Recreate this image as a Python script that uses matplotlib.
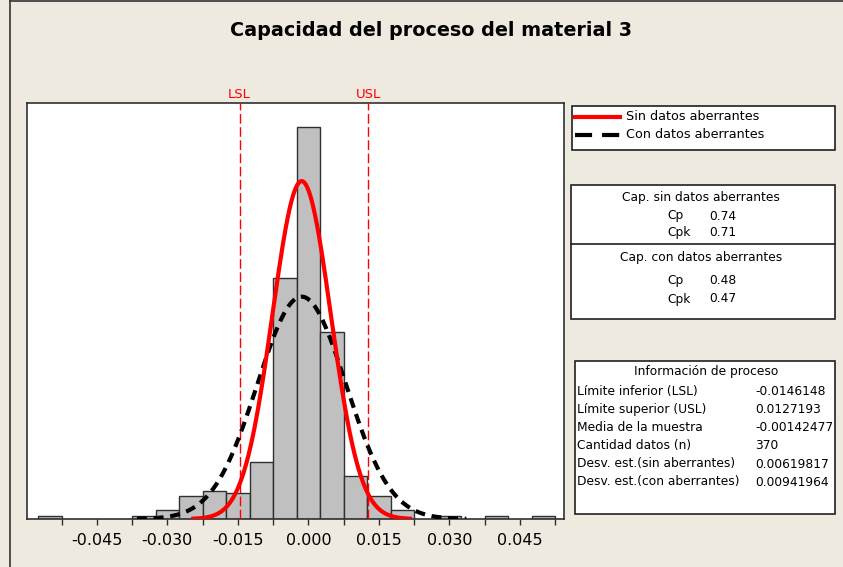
import numpy as np
import matplotlib
matplotlib.use("Agg")
import matplotlib.pyplot as plt
from matplotlib.patches import Rectangle
from matplotlib.lines import Line2D

# datos del histograma (centros de clase y frecuencias)
centros = [-0.055, -0.035, -0.030, -0.025, -0.020, -0.015, -0.010, -0.005, 0.000,
           0.005, 0.010, 0.015, 0.020, 0.030, 0.040, 0.050]
frecuencias = [1, 1, 3, 8, 10, 9, 20, 85, 138, 66, 15, 8, 3, 1, 1, 1]
ancho = 0.005

LSL = -0.0146148
USL = 0.0127193
media = -0.00142477
n = 370
sd_sin = 0.00619817
sd_con = 0.00941964

ticks_lab = [-0.045, -0.030, -0.015, 0.000, 0.015, 0.030, 0.045]
ticks_min = [-0.0525, -0.0375, -0.0225, -0.0075, 0.0075, 0.0225, 0.0375, 0.0525]

cap_sin = [("Cp", "0.74"), ("Cpk", "0.71")]
cap_con = [("Cp", "0.48"), ("Cpk", "0.47")]
info_lab = ["Límite inferior (LSL)", "Límite superior (USL)", "Media de la muestra",
            "Cantidad datos (n)", "Desv. est.(sin aberrantes)", "Desv. est.(con aberrantes)"]
info_val = ["-0.0146148", "0.0127193", "-0.00142477", "370", "0.00619817", "0.00941964"]

W, H = 843, 567
fondo = "#EEEAE0"
rojo = "#FF0000"

def fx(x):
    return x / W

def fy(y):
    return 1 - y / H

fig = plt.figure(figsize=(W / 100, H / 100), dpi=100, facecolor=fondo)

# marco de la figura
fig.add_artist(Line2D([fx(9.5), fx(9.5)], [0, 1], color="#333333", lw=1.2))
fig.add_artist(Line2D([fx(9.5), 1], [fy(1), fy(1)], color="#333333", lw=1.2))

fig.text(fx(431), fy(31), "Capacidad del proceso del material 3", ha="center", va="center",
         fontsize=13.8, fontweight="bold")

ax = fig.add_axes([fx(27.3), fy(519), fx(564) - fx(27.3), fy(102.7) - fy(519)])
ax.set_facecolor("white")
ax.bar(centros, frecuencias, width=ancho, color="#C0C0C0", edgecolor="#303030", linewidth=1, zorder=2)

for lim, nombre in [(LSL, "LSL"), (USL, "USL")]:
    ax.axvline(lim, color=rojo, lw=1, dashes=(7, 2.5), zorder=3)
    ax.text(lim, 1.005, nombre, transform=ax.get_xaxis_transform(), ha="center", va="bottom",
            color=rojo, fontsize=9.5)

# curvas normales ajustadas
x_con = np.linspace(media - 3.72 * sd_con, media + 3.72 * sd_con, 300)
y_con = n * ancho * np.exp(-0.5 * ((x_con - media) / sd_con) ** 2) / (sd_con * np.sqrt(2 * np.pi))
x_sin = np.linspace(media - 3.72 * sd_sin, media + 3.72 * sd_sin, 300)
y_sin = n * ancho * np.exp(-0.5 * ((x_sin - media) / sd_sin) ** 2) / (sd_sin * np.sqrt(2 * np.pi))
ax.plot(x_con, y_con, color="black", lw=3, dashes=(2.4, 1.6), zorder=4)
ax.plot(x_sin, y_sin, color=rojo, lw=3, zorder=5)

ax.set_xlim(-0.0598, 0.0544)
ax.set_ylim(0, 146.7)
ax.set_yticks([])
ax.set_xticks(ticks_lab)
ax.set_xticklabels(["%.3f" % t for t in ticks_lab])
ax.set_xticks(ticks_min, minor=True)
ax.tick_params(axis="x", which="both", direction="out", length=4, width=1, color="#303030")
ax.tick_params(axis="x", which="major", labelsize=11.5, pad=6)
for s in ax.spines.values():
    s.set_color("#303030")
    s.set_linewidth(1.2)

def caja(x0, y0, x1, y1):
    fig.add_artist(Rectangle((fx(x0), fy(y1)), fx(x1) - fx(x0), fy(y0) - fy(y1),
                             transform=fig.transFigure, facecolor="white",
                             edgecolor="#202020", lw=1.2))

# leyenda
caja(572, 106, 835, 150)
fig.add_artist(Line2D([fx(575), fx(620)], [fy(117), fy(117)], color=rojo, lw=3))
fig.add_artist(Line2D([fx(575), fx(620)], [fy(135), fy(135)], color="black", lw=3,
                      dashes=(4.1, 2.4)))
fig.text(fx(626), fy(117), "Sin datos aberrantes", va="center", fontsize=9.2)
fig.text(fx(626), fy(135), "Con datos aberrantes", va="center", fontsize=9.2)

# capacidades
caja(571, 185, 835, 319)
fig.add_artist(Line2D([fx(571), fx(835)], [fy(244), fy(244)], color="#202020", lw=1.2))
fig.text(fx(701), fy(198), "Cap. sin datos aberrantes", ha="center", va="center", fontsize=8.8)
fig.text(fx(701), fy(258), "Cap. con datos aberrantes", ha="center", va="center", fontsize=8.8)
for filas, ys in [(cap_sin, [216, 233]), (cap_con, [281, 299])]:
    for (et, val), yy in zip(filas, ys):
        fig.text(fx(667), fy(yy), et, va="center", fontsize=8.8)
        fig.text(fx(709), fy(yy), val, va="center", fontsize=8.8)

# informacion de proceso
caja(575, 361, 835, 514)
fig.text(fx(706), fy(372), "Información de proceso", ha="center", va="center", fontsize=8.8)
ys_info = [391.5, 409.5, 427.5, 445.5, 464, 482]
for et, val, yy in zip(info_lab, info_val, ys_info):
    fig.text(fx(577), fy(yy), et, va="center", fontsize=8.8)
    fig.text(fx(755), fy(yy), val, va="center", fontsize=8.8)

fig.savefig("out.png", dpi=100, facecolor=fondo)
